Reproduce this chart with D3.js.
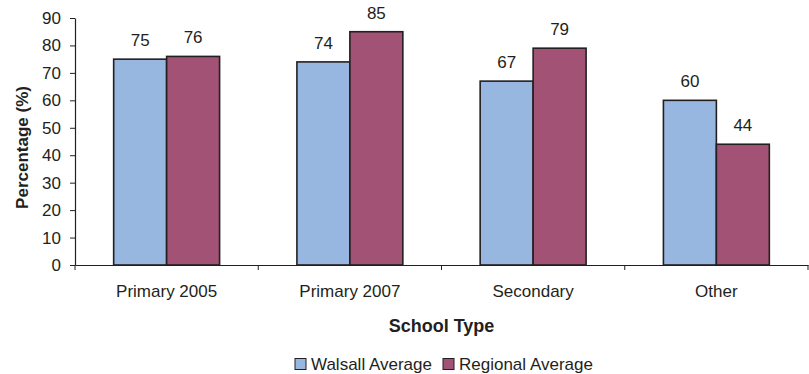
<!DOCTYPE html>
<html>
<head>
<meta charset="utf-8">
<script src="https://cdn.jsdelivr.net/npm/d3@7"></script>
<style>
  html, body { margin: 0; padding: 0; background: #fff; }
  svg { display: block; font-family: "Liberation Sans", Arial, sans-serif; }
</style>
</head>
<body>
<svg id="chart" width="809" height="374"></svg>
<script>
// School types along the x axis
const categories = ["Primary 2005", "Primary 2007", "Secondary", "Other"];
// Percentages for each series
const walsallAverage = [75, 74, 67, 60];
const regionalAverage = [76, 85, 79, 44];
const seriesNames = ["Walsall Average", "Regional Average"];
const seriesColors = ["#97B7E0", "#A25274"];
const yTicks = [0, 10, 20, 30, 40, 50, 60, 70, 80, 90];

const ink = "#231F20";
const svg = d3.select("#chart");
const plot = { left: 75, right: 808, top: 18, bottom: 265 };

const x0 = d3.scaleBand().domain(categories).range([plot.left, plot.right]).paddingInner(0).paddingOuter(0);
const x1 = d3.scaleBand().domain(seriesNames).range([0, x0.bandwidth()]).paddingOuter(0.73).paddingInner(0);
const y = d3.scaleLinear().domain([0, 90]).range([plot.bottom, plot.top]);

const series = [walsallAverage, regionalAverage];
const rows = categories.map((c, i) => ({
  cat: c,
  vals: seriesNames.map((s, j) => ({ series: s, idx: j, value: series[j][i] }))
}));

// Bars
const groups = svg.append("g").selectAll("g").data(rows).join("g")
  .attr("transform", d => `translate(${x0(d.cat)},0)`);

groups.selectAll("rect").data(d => d.vals).join("rect")
  .attr("x", d => x1(d.series))
  .attr("y", d => y(d.value))
  .attr("width", x1.bandwidth())
  .attr("height", d => y(0) - y(d.value))
  .attr("fill", d => seriesColors[d.idx])
  .attr("stroke", ink)
  .attr("stroke-width", 1.6);

// Value labels
groups.selectAll("text").data(d => d.vals).join("text")
  .attr("x", d => x1(d.series) + x1.bandwidth() / 2)
  .attr("y", d => y(d.value) - 13)
  .attr("text-anchor", "middle")
  .attr("font-size", 17)
  .attr("fill", ink)
  .text(d => d.value);

// Y axis
const yAxis = svg.append("g")
  .attr("transform", `translate(${plot.left},0)`)
  .call(d3.axisLeft(y).tickValues(yTicks).tickSize(5).tickPadding(9).tickSizeOuter(0));
yAxis.select(".domain").attr("stroke", ink).attr("stroke-width", 1.2);
yAxis.selectAll(".tick line").attr("stroke", ink);
yAxis.selectAll(".tick text").attr("font-size", 17).attr("fill", ink)
  .attr("font-family", "Liberation Sans, Arial, sans-serif");

// X axis with ticks at the category boundaries
const xAxis = svg.append("g")
  .attr("transform", `translate(0,${plot.bottom})`)
  .call(d3.axisBottom(x0).tickSize(0).tickPadding(20));
xAxis.select(".domain").attr("stroke", ink).attr("stroke-width", 1.2);
xAxis.selectAll(".tick text").attr("font-size", 17).attr("fill", ink)
  .attr("font-family", "Liberation Sans, Arial, sans-serif");
const boundaries = categories.map(c => x0(c)).concat([x0.range()[1]]);
xAxis.selectAll("line.bound").data(boundaries).join("line")
  .attr("class", "bound")
  .attr("x1", d => d).attr("x2", d => d)
  .attr("y1", 0).attr("y2", 5)
  .attr("stroke", ink);

// Axis titles
svg.append("text")
  .attr("transform", `translate(28,${(plot.top + plot.bottom) / 2 + 6}) rotate(-90)`)
  .attr("text-anchor", "middle")
  .attr("font-size", 17).attr("font-weight", "bold").attr("fill", ink)
  .text("Percentage (%)");

svg.append("text")
  .attr("x", (plot.left + plot.right) / 2)
  .attr("y", 332)
  .attr("text-anchor", "middle")
  .attr("font-size", 18).attr("font-weight", "bold").attr("fill", ink)
  .text("School Type");

// Legend
const legend = svg.append("g");
const legendX = [295, 443];
seriesNames.forEach((name, i) => {
  legend.append("rect")
    .attr("x", legendX[i]).attr("y", 358.5)
    .attr("width", 11).attr("height", 11)
    .attr("fill", seriesColors[i])
    .attr("stroke", ink).attr("stroke-width", 1);
  legend.append("text")
    .attr("x", legendX[i] + 16).attr("y", 369.5)
    .attr("font-size", 17).attr("fill", ink)
    .text(name);
});
</script>
</body>
</html>
